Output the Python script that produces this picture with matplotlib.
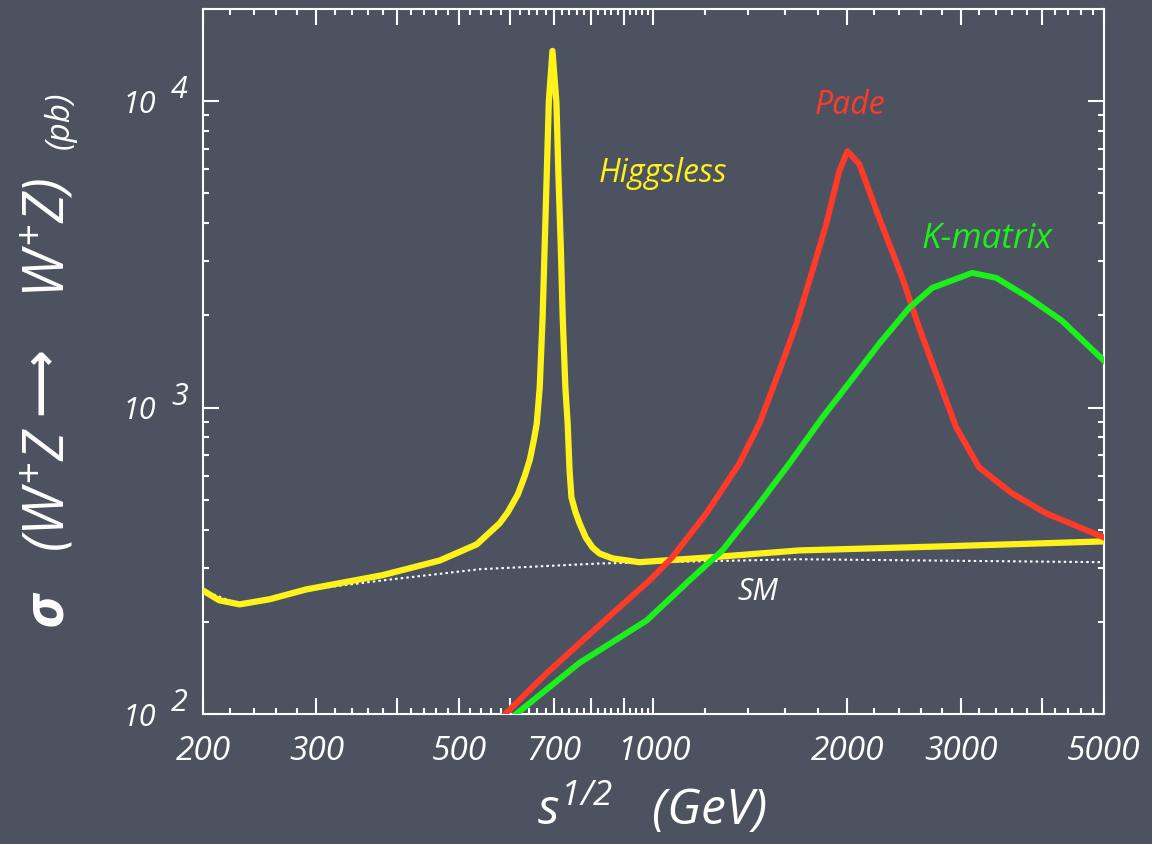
import numpy as np
import matplotlib.pyplot as plt
from matplotlib.ticker import FixedLocator, FixedFormatter, NullFormatter
import matplotlib.transforms as mtransforms

plt.rcParams['font.family'] = ['Open Sans', 'DejaVu Sans']
plt.rcParams['font.style'] = 'italic'
plt.rcParams['mathtext.fontset'] = 'custom'
plt.rcParams['mathtext.rm'] = 'Open Sans'
plt.rcParams['mathtext.it'] = 'Open Sans:italic'
plt.rcParams['mathtext.bf'] = 'Open Sans:bold:italic'
plt.rcParams['mathtext.default'] = 'it'

# Higgsless (yellow)
higgsless_x = [200, 212, 228, 254, 289, 380, 466, 532, 577, 594, 616, 631, 643, 652, 659,
               666, 673, 678, 683, 688, 697, 707, 712, 718, 723, 730, 736, 741, 746, 757,
               768, 785, 804, 825, 864, 951, 1234, 1684, 2876, 5000]
higgsless_y = [253, 235, 228, 237, 255, 284, 317, 358, 419, 455, 521, 596, 677, 781, 887,
               1162, 1979, 3396, 5783, 9924, 14600, 9924, 5783, 3396, 1979, 1162, 887, 623, 509, 455,
               419, 377, 350, 334, 322, 313, 325, 342, 353, 366]

# SM (white dotted)
sm_x = [200, 228, 289, 380, 538, 825, 1684, 5000]
sm_y = [253, 228, 254, 273, 297, 310, 320, 313]

# Pade (red)
pade_x = [583, 683, 864, 986, 1070, 1208, 1359, 1460, 1568, 1666, 1764, 1854, 1942, 2000,
          2086, 2240, 2433, 2584, 2746, 2950, 3201, 3600, 4066, 5000]
pade_y = [98, 136, 213, 273, 325, 452, 657, 887, 1320, 1877, 2794, 3976, 5915, 6870,
          6237, 4158, 2652, 1822, 1290, 861, 638, 525, 452, 377]

# K-matrix (green)
kmat_x = [605, 768, 976, 1137, 1279, 1444, 1625, 1828, 2063, 2240, 2494, 2706, 3122, 3402,
          3826, 4305, 5000]
kmat_y = [98, 147, 202, 273, 342, 472, 657, 928, 1290, 1616, 2117, 2459, 2753, 2652,
          2282, 1920, 1423]

x_labeled = [200, 300, 500, 700, 1000, 2000, 3000, 5000]
y_decades = [1e2, 1e3, 1e4]

bg = "#4c5260"
fig = plt.figure(figsize=(11.52, 8.44), dpi=100, facecolor=bg)
ax = fig.add_axes([0.1762, 0.154, 0.7821, 0.8353])
ax.set_facecolor(bg)

ax.plot(sm_x, sm_y, color="white", lw=1.5, ls=(0, (1.2, 1.5)), zorder=2)
ax.plot(higgsless_x, higgsless_y, color="#fff21a", lw=4.5, solid_capstyle="round",
        solid_joinstyle="round", zorder=3)
ax.plot(pade_x, pade_y, color="#ff3a28", lw=4.3, solid_joinstyle="round", zorder=4)
ax.plot(kmat_x, kmat_y, color="#1cf01c", lw=4.3, solid_joinstyle="round", zorder=4)

ax.set_xscale("log")
ax.set_yscale("log")
ax.set_xlim(200, 5000)
ax.set_ylim(100, 2e4)

# x ticks: long every 100 (below 1000) / 1000, short every 20 / 200
major_x = list(range(200, 1001, 100)) + list(range(2000, 5001, 1000))
minor_x = [v for v in list(range(200, 1000, 20)) + list(range(1000, 5000, 200))
           if v not in major_x]
ax.xaxis.set_major_locator(FixedLocator(major_x))
ax.xaxis.set_major_formatter(FixedFormatter([str(v) if v in x_labeled else "" for v in major_x]))
ax.xaxis.set_minor_locator(FixedLocator(minor_x))
ax.xaxis.set_minor_formatter(NullFormatter())

ax.yaxis.set_major_locator(FixedLocator(y_decades))
ax.yaxis.set_major_formatter(FixedFormatter(["10"] * len(y_decades)))
ax.yaxis.set_minor_formatter(NullFormatter())

ax.tick_params(which="both", direction="in", top=True, right=True, colors="white", width=1.5)
ax.tick_params(which="major", length=11.5)
ax.tick_params(which="minor", length=4.3)
ax.tick_params(axis="x", which="major", labelsize=24, pad=15)
ax.tick_params(axis="y", which="major", labelsize=22, pad=34)
for sp in ax.spines.values():
    sp.set_color("white")
    sp.set_linewidth(1.5)

# exponents of y tick labels
trans = mtransforms.blended_transform_factory(ax.transAxes, ax.transData)
for v in y_decades:
    ax.annotate(str(int(np.log10(v))), xy=(0, v), xycoords=trans, xytext=(-17, 8),
                textcoords="offset points", ha="center", va="center",
                fontsize=22, color="white", annotation_clip=False)

# curve labels
ax.text(1033, 5830, "Higgsless", color="#fff21a", fontsize=23, ha="center", va="center")
ax.text(2020, 9700, "Pade", color="#ff3a28", fontsize=23, ha="center", va="center")
ax.text(3294, 3550, "K-matrix", color="#1cf01c", fontsize=25, ha="center", va="center")
ax.text(1454, 250, "SM", color="white", fontsize=22, ha="center", va="center")

# axis titles
fig.text(0.566, 0.042, r"$s^{1/2}$   (GeV)", color="white", fontsize=36,
         ha="center", va="center")
fig.text(0.043, 0.375, r"$\mathbf{\sigma}$   ($W^{+}Z$", color="white", fontsize=40,
         rotation=90, ha="center", va="center")
fig.text(0.036, 0.549, "\u27f6", color="white", fontsize=34, rotation=90,
         ha="center", va="center", family="DejaVu Sans", style="normal", weight="bold")
fig.text(0.043, 0.718, r"$W^{+}Z$)", color="white", fontsize=40,
         rotation=90, ha="center", va="center")
fig.text(0.052, 0.858, "(pb)", color="white", fontsize=24, rotation=90,
         ha="center", va="center")

plt.savefig("out.png", dpi=100, facecolor=bg)
